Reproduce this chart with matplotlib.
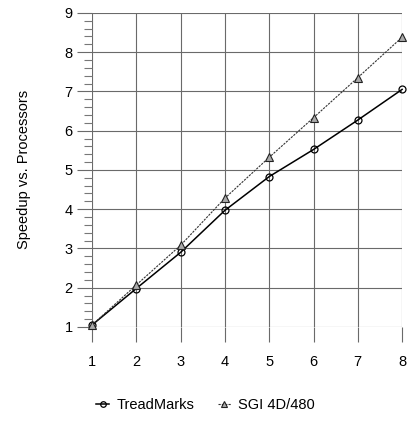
import matplotlib
matplotlib.use("Agg")
import matplotlib.pyplot as plt
from matplotlib.ticker import MultipleLocator

plt.rcParams["font.family"] = ["Liberation Sans", "DejaVu Sans"]

processors = [1, 2, 3, 4, 5, 6, 7, 8]
treadmarks = [1.05, 1.98, 2.90, 3.97, 4.83, 5.52, 6.27, 7.05]
sgi = [1.05, 2.07, 3.08, 4.28, 5.32, 6.33, 7.35, 8.38]
series_labels = ["TreadMarks", "SGI 4D/480"]

fig = plt.figure(figsize=(4.07, 4.28), dpi=100)
ax = fig.add_axes([0.226, 0.236, 0.762, 0.734])

ax.plot(processors, treadmarks, color="black", lw=1.1, marker="o",
        ms=5, mfc="none", mec="black", mew=0.9, clip_on=False,
        label=series_labels[0], zorder=3)
ax.plot(processors, sgi, color="#333333", lw=0.8, ls=(0, (2, 1)), marker="^",
        ms=6, mfc="#aaaaaa", mec="#222222", mew=0.8, clip_on=False,
        label=series_labels[1], zorder=3)

ax.set_xlim(1, 8)
ax.set_ylim(1, 9)
ax.xaxis.set_major_locator(MultipleLocator(1))
ax.yaxis.set_major_locator(MultipleLocator(1))
ax.yaxis.set_minor_locator(MultipleLocator(0.2))
ax.grid(True, which="major", color="#6a6a6a", lw=0.8)
for s in ax.spines.values():
    s.set_visible(False)
ax.tick_params(which="major", length=11, width=0.8, color="#6a6a6a",
               labelsize=10.5, pad=9)
ax.tick_params(axis="y", which="major", pad=3)
ax.tick_params(axis="y", which="minor", length=6, width=0.8, color="#777777")

ax.set_ylabel("Speedup vs. Processors", fontsize=10.5, labelpad=24)

fig.legend(loc="center", bbox_to_anchor=(0.505, 0.053), ncol=2, frameon=False,
           fontsize=10.5, handlelength=0.9, columnspacing=1.6, handletextpad=0.5,
           markerscale=0.8)

fig.savefig("out.png", dpi=100)
